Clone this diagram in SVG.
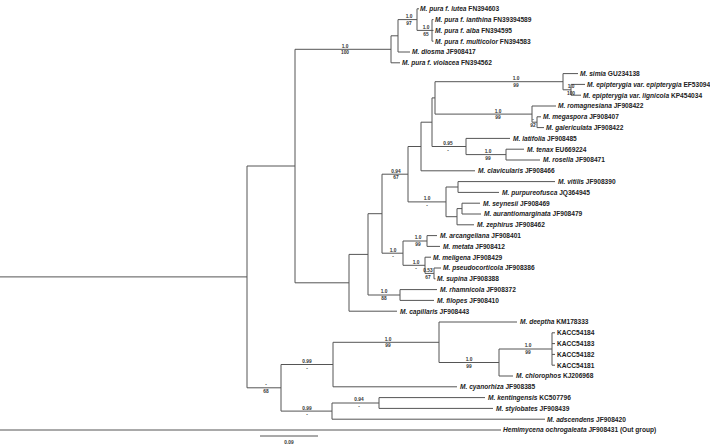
<svg xmlns="http://www.w3.org/2000/svg" width="710" height="447" viewBox="0 0 710 447">
<style>
.br{fill:none;stroke:#555;stroke-width:1}
.tip{font-family:"Liberation Sans",Arial,sans-serif;font-size:6.6px;font-weight:bold;fill:#222}
.sp{font-style:italic}
.sup{font-family:"Liberation Sans",Arial,sans-serif;font-size:4.8px;font-weight:bold;fill:#333;text-anchor:middle}
</style>
<rect width="710" height="447" fill="#fff"/>
<g id="connectors" class="br">
<path d="M0,276.9H247M0,430H501"/>
<path d="M247,166V387.8M247,166H295M247,387.8H281"/>
<path d="M295,49.3V282.8M295,49.3H391M295,282.8H349"/>
<path d="M391,35.8V62.8M391,35.8H398M391,62.8H400"/>
<path d="M398,19.6V52M398,19.6H417M398,52H410"/>
<path d="M417,8.8V30.4M417,8.8H419M417,30.4H432"/>
<path d="M432,19.6V41.2M432,19.6H433.5M432,30.4H433.5M432,41.2H433.5"/>
<path d="M349,254.4V311.2M349,254.4H368M349,311.2H397"/>
<path d="M368,213.7V295M368,213.7H382M368,295H400"/>
<path d="M382,174.2V253.2M382,174.2H408M382,253.2H403"/>
<path d="M408,146.5V201.9M408,146.5H421M408,201.9H446"/>
<path d="M421,122.2V170.8M421,122.2H432M421,170.8H475"/>
<path d="M432,97.9V146.5M432,97.9H435M432,146.5H466"/>
<path d="M435,81.7V114.1M435,81.7H563M435,114.1H532"/>
<path d="M563,73.6V89.8M563,73.6H578M563,89.8H571"/>
<path d="M571,84.4V95.2M571,84.4H585M571,95.2H581"/>
<path d="M532,106V122.2M532,106H556M532,122.2H537"/>
<path d="M537,116.8V127.6M537,116.8H541M537,127.6H544"/>
<path d="M466,138.4V154.6M466,138.4H510M466,154.6H506"/>
<path d="M506,149.2V160M506,149.2H524M506,160H540"/>
<path d="M446,187V216.7M446,187H458M446,216.7H457"/>
<path d="M458,181.6V192.4M458,181.6H555M458,192.4H499"/>
<path d="M457,208.6V224.8M457,208.6H462M457,224.8H474"/>
<path d="M462,203.2V214M462,203.2H480M462,214H481"/>
<path d="M403,241V265.3M403,241H427M403,265.3H425"/>
<path d="M427,235.6V246.4M427,235.6H437M427,246.4H440"/>
<path d="M425,257.2V273.4M425,257.2H431M425,273.4H434"/>
<path d="M434,268V278.8M434,268H441M434,278.8H435.5"/>
<path d="M400,289.6V300.4M400,289.6H437M400,300.4H434"/>
<path d="M281,364.5V411.1M281,364.5H333M281,411.1H332"/>
<path d="M333,342.3V386.8M333,342.3H439M333,386.8H457"/>
<path d="M439,322V362.5M439,322H517M439,362.5H499"/>
<path d="M499,349V376M499,349H552M499,376H513"/>
<path d="M552,332.8V365.2M552,332.8H555M552,343.6H555M552,354.4H555M552,365.2H555"/>
<path d="M332,403V419.2M332,403H379M332,419.2H545"/>
<path d="M379,397.6V408.4M379,397.6H485M379,408.4H493"/>
<path d="M260,436H318"/>
</g>
<g id="supports" class="sup">
<g id="n-pura"><text x="345" y="47.7">1.0</text><text x="345" y="54.4">100</text></g>
<g id="n-lutea"><text x="409" y="18">1.0</text><text x="409" y="24.7">97</text></g>
<g id="n-ianthina"><text x="426" y="28.8">1.0</text><text x="426" y="35.5">65</text></g>
<g id="n-simia"><text x="516" y="80.1">1.0</text><text x="516" y="86.8">99</text></g>
<g id="n-epi"><text x="571" y="88.2">1.0</text><text x="571" y="94.9">100</text></g>
<g id="n-romag"><text x="498" y="112.5">1.0</text><text x="498" y="119.2">99</text></g>
<g id="n-mega"><text x="533" y="120.6">-</text><text x="533" y="127.3">92</text></g>
<g id="n-latif"><text x="448" y="144.9">0.95</text><text x="448" y="151.6">-</text></g>
<g id="n-tenax"><text x="488" y="153">1.0</text><text x="488" y="159.7">99</text></g>
<g id="n-094"><text x="396" y="172.6">0.94</text><text x="396" y="179.3">67</text></g>
<g id="n-vitilis"><text x="427" y="200.3">1.0</text><text x="427" y="207">-</text></g>
<g id="n-arc"><text x="418" y="239.4">1.0</text><text x="418" y="246.1">99</text></g>
<g id="n-melig"><text x="416" y="263.7">1.0</text><text x="416" y="270.4">-</text></g>
<g id="n-pseudo"><text x="428" y="271.8">0.53</text><text x="428" y="278.5">67</text></g>
<g id="n-403"><text x="393" y="251.6">1.0</text><text x="393" y="258.3">-</text></g>
<g id="n-rham"><text x="384" y="293.4">1.0</text><text x="384" y="300.1">88</text></g>
<g id="n-281"><text x="266" y="386.2">-</text><text x="266" y="392.9">68</text></g>
<g id="n-333"><text x="307" y="362.9">0.99</text><text x="307" y="369.6">-</text></g>
<g id="n-deeptha"><text x="388" y="340.7">1.0</text><text x="388" y="347.4">99</text></g>
<g id="n-chloro"><text x="469" y="360.9">1.0</text><text x="469" y="367.6">99</text></g>
<g id="n-kacc"><text x="528" y="347.4">1.0</text><text x="528" y="354.1">99</text></g>
<g id="n-332"><text x="307" y="409.5">0.99</text><text x="307" y="416.2">-</text></g>
<g id="n-kent"><text x="359" y="401.4">0.94</text><text x="359" y="408.1">-</text></g>
<g id="scale"><text x="289" y="444">0.09</text></g>
</g>
<g id="tips" class="tip">
<g id="t-lutea"><text x="420" y="11.2"><tspan class="sp">M. pura f. lutea</tspan> FN394603</text></g>
<g id="t-ianthina"><text x="435" y="22"><tspan class="sp">M. pura f. ianthina</tspan> FN39394589</text></g>
<g id="t-alba"><text x="435" y="32.8"><tspan class="sp">M. pura f. alba</tspan> FN394595</text></g>
<g id="t-multicolor"><text x="435" y="43.6"><tspan class="sp">M. pura f. multicolor</tspan> FN394583</text></g>
<g id="t-diosma"><text x="412" y="54.4"><tspan class="sp">M. diosma</tspan> JF908417</text></g>
<g id="t-violacea"><text x="402" y="65.2"><tspan class="sp">M. pura f. violacea</tspan> FN394562</text></g>
<g id="t-simia"><text x="580" y="76"><tspan class="sp">M. simia</tspan> GU234138</text></g>
<g id="t-epiepi"><text x="587" y="86.8"><tspan class="sp">M. epipterygia var. epipterygia</tspan> EF53094</text></g>
<g id="t-epilig"><text x="583" y="97.6"><tspan class="sp">M. epipterygia var. lignicola</tspan> KP454034</text></g>
<g id="t-romag"><text x="558" y="108.4"><tspan class="sp">M. romagnesiana</tspan> JF908422</text></g>
<g id="t-mega"><text x="543" y="119.2"><tspan class="sp">M. megaspora</tspan> JF908407</text></g>
<g id="t-galer"><text x="546" y="130"><tspan class="sp">M. galericulata</tspan> JF908422</text></g>
<g id="t-latif"><text x="513" y="140.8"><tspan class="sp">M. latifolia</tspan> JF908485</text></g>
<g id="t-tenax"><text x="527" y="151.6"><tspan class="sp">M. tenax</tspan> EU669224</text></g>
<g id="t-rosella"><text x="543" y="162.4"><tspan class="sp">M. rosella</tspan> JF908471</text></g>
<g id="t-clavic"><text x="478" y="173.2"><tspan class="sp">M. clavicularis</tspan> JF908466</text></g>
<g id="t-vitilis"><text x="558" y="184"><tspan class="sp">M. vitilis</tspan> JF908390</text></g>
<g id="t-purpur"><text x="502" y="194.8"><tspan class="sp">M. purpureofusca</tspan> JQ364945</text></g>
<g id="t-seynesii"><text x="483" y="205.6"><tspan class="sp">M. seynesii</tspan> JF908469</text></g>
<g id="t-aurant"><text x="484" y="216.4"><tspan class="sp">M. aurantiomarginata</tspan> JF908479</text></g>
<g id="t-zephirus"><text x="477" y="227.2"><tspan class="sp">M. zephirus</tspan> JF908462</text></g>
<g id="t-arcang"><text x="440" y="238"><tspan class="sp">M. arcangeliana</tspan> JF908401</text></g>
<g id="t-metata"><text x="443" y="248.8"><tspan class="sp">M. metata</tspan> JF908412</text></g>
<g id="t-meligena"><text x="433" y="259.6"><tspan class="sp">M. meligena</tspan> JF908429</text></g>
<g id="t-pseudo"><text x="443" y="270.4"><tspan class="sp">M. pseudocorticola</tspan> JF908386</text></g>
<g id="t-supina"><text x="437" y="281.2"><tspan class="sp">M. supina</tspan> JF908388</text></g>
<g id="t-rhamn"><text x="440" y="292"><tspan class="sp">M. rhamnicola</tspan> JF908372</text></g>
<g id="t-filopes"><text x="437" y="302.8"><tspan class="sp">M. filopes</tspan> JF908410</text></g>
<g id="t-capill"><text x="400" y="313.6"><tspan class="sp">M. capillaris</tspan> JF908443</text></g>
<g id="t-deeptha"><text x="520" y="324.4"><tspan class="sp">M. deeptha</tspan> KM178333</text></g>
<g id="t-k84"><text x="557" y="335.2">KACC54184</text></g>
<g id="t-k83"><text x="557" y="346">KACC54183</text></g>
<g id="t-k82"><text x="557" y="356.8">KACC54182</text></g>
<g id="t-k81"><text x="557" y="367.6">KACC54181</text></g>
<g id="t-chloro"><text x="516" y="378.4"><tspan class="sp">M. chlorophos</tspan> KJ206968</text></g>
<g id="t-cyano"><text x="460" y="389.2"><tspan class="sp">M. cyanorhiza</tspan> JF908385</text></g>
<g id="t-kenting"><text x="488" y="400"><tspan class="sp">M. kentingensis</tspan> KC507796</text></g>
<g id="t-stylob"><text x="496" y="410.8"><tspan class="sp">M. stylobates</tspan> JF908439</text></g>
<g id="t-adsc"><text x="547" y="421.6"><tspan class="sp">M. adscendens</tspan> JF908420</text></g>
<g id="t-hemi"><text x="503" y="432.4"><tspan class="sp">Hemimycena ochrogaleata</tspan> JF908431 (Out group)</text></g>
</g>
</svg>
